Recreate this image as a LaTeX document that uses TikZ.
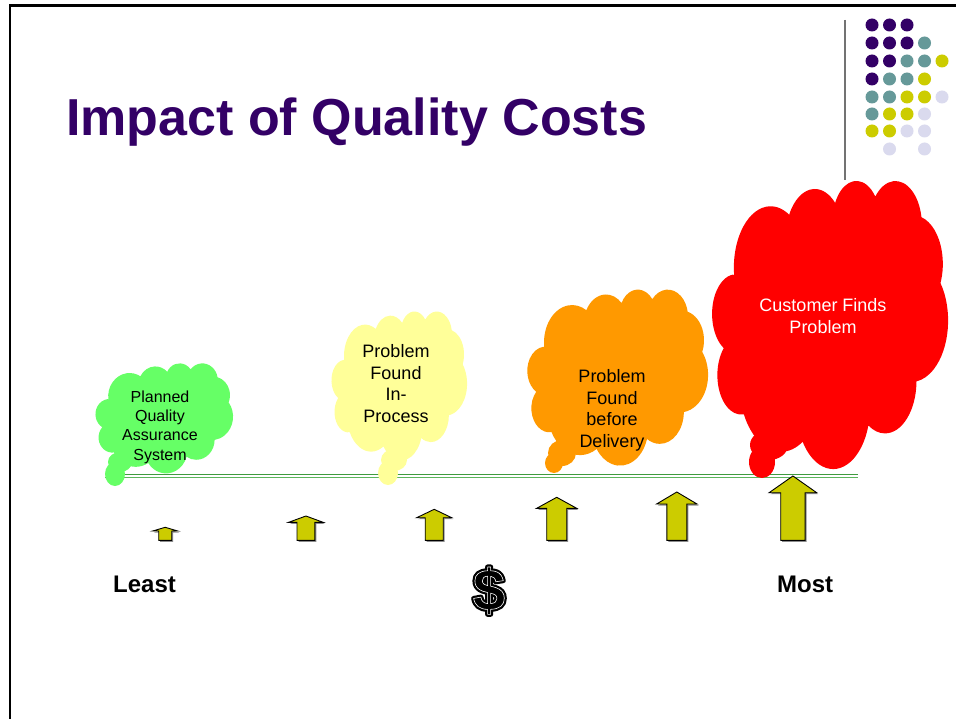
\documentclass[tikz,border=0pt]{standalone}
\usepackage{fontspec}
\setmainfont{Liberation Sans}
\definecolor{titlepurple}{HTML}{330066}
\definecolor{dotteal}{HTML}{669999}
\definecolor{dotyellow}{HTML}{CCCC00}
\definecolor{dotlilac}{HTML}{DADAEE}
\definecolor{cgreen}{HTML}{66FF66}
\definecolor{cyellow}{HTML}{FFFF99}
\definecolor{corange}{HTML}{FF9900}
\definecolor{cred}{HTML}{FF0000}
\definecolor{arrfill}{HTML}{CCCC00}
\definecolor{lineA}{HTML}{3F9B3F}
\definecolor{lineB}{HTML}{5DB55D}
% cloud outline (PowerPoint cloud preset) in a unit box, y downwards
\newcommand\qcloud[5]{%
  \begin{scope}[shift={(#1,#2)}, x=#3pt, y=-#4pt]
  \fill[#5] (0.090278,0.332639)
    arc[start angle=172.25, delta angle=128.12, x radius=0.156319, y radius=0.212731]
    arc[start angle=-152.02, delta angle=106.58, x radius=0.123449, y radius=0.168218]
    arc[start angle=-153.48, delta angle=116.16, x radius=0.101042, y radius=0.137616]
    arc[start angle=-139.71, delta angle=129.50, x radius=0.112431, y radius=0.152662]
    arc[start angle=-74.77, delta angle=97.98, x radius=0.123449, y radius=0.168356]
    arc[start angle=-37.54, delta angle=119.41, x radius=0.156829, y radius=0.213426]
    arc[start angle=0.46, delta angle=121.53, x radius=0.133912, y radius=0.182106]
    arc[start angle=16.85, delta angle=129.38, x radius=0.156296, y radius=0.213310]
    arc[start angle=58.98, delta angle=93.27, x radius=0.178704, y radius=0.244051]
    arc[start angle=83.31, delta angle=139.79, x radius=0.100926, y radius=0.136991]
    arc[start angle=120.36, delta angle=143.75, x radius=0.100579, y radius=0.137616]
    -- cycle;
  \end{scope}}
\newcommand\uparr[5]{% cx, top, headbase, headhalf, shafthalf
  \fill[black!45] ({#1+1.5},{#2+1.5}) -- ({#1+#4+1.5},{#3+1.5}) -- ({#1+#5+1.5},{#3+1.5}) -- ({#1+#5+1.5},541.8) -- ({#1-#5+1.5},541.8) -- ({#1-#5+1.5},{#3+1.5}) -- ({#1-#4+1.5},{#3+1.5}) -- cycle;
  \filldraw[arrowstyle] (#1,#2) -- ({#1+#4},#3) -- ({#1+#5},#3) -- ({#1+#5},540.3) -- ({#1-#5},540.3) -- ({#1-#5},#3) -- ({#1-#4},#3) -- cycle;}
\tikzset{
  arrowstyle/.style={fill=arrfill, draw=black, line width=0.9pt, line join=miter},
  cloudtext/.style={align=center, inner sep=0, anchor=base, font=\fontsize{18}{21.8}\selectfont},
  scaletext/.style={anchor=base west, inner sep=0, font=\fontsize{24}{24}\selectfont\bfseries},
  dollarstyle/.style={anchor=base, inner sep=0, font=\fontsize{58}{58}\selectfont\bfseries},
}
\begin{document}
\begin{tikzpicture}[x=1pt,y=-1pt]
\useasboundingbox (0,0) rectangle (956,719);
\fill[white] (0,0) rectangle (956,719);
% frame
\draw[line width=2.2pt] (10,721) -- (10,5.5) -- (958,5.5);
% gray rule
\draw[black!55, line width=1.2pt] (845,20) -- (845,180);
% dot grid
\foreach \row/\cols in {25/{1/titlepurple,2/titlepurple,3/titlepurple},
  43/{1/titlepurple,2/titlepurple,3/titlepurple,4/dotteal},
  61/{1/titlepurple,2/titlepurple,3/dotteal,4/dotteal,5/dotyellow},
  79/{1/titlepurple,2/dotteal,3/dotteal,4/dotyellow},
  97/{1/dotteal,2/dotteal,3/dotyellow,4/dotyellow,5/dotlilac},
  114/{1/dotteal,2/dotyellow,3/dotyellow,4/dotlilac},
  131/{1/dotyellow,2/dotyellow,3/dotlilac,4/dotlilac},
  149/{2/dotlilac,4/dotlilac}}{
  \foreach \c/\col in \cols {
    \fill[\col] ({854.5+17.5*\c},\row) circle [radius=6.5pt];
  }}
% title
\node[anchor=base west, inner sep=0, text=titlepurple, font=\fontsize{52}{52}\selectfont\bfseries] (title) at (66,136) {Impact of Quality Costs};
% base line
\draw[lineA, line width=1.5pt] (105,474.3) -- (858,474.3);
\draw[lineB, line width=1.3pt] (105,477.4) -- (858,477.4);
% clouds
\qcloud{96}{363}{137}{110}{cgreen}
\fill[cgreen] (120,462) ellipse [x radius=12pt, y radius=10pt];
\fill[cgreen] (115,474) ellipse [x radius=10pt, y radius=12pt];
\qcloud{332}{311}{135}{149}{cyellow}
\fill[cyellow] (394,460) ellipse [x radius=13pt, y radius=11pt];
\fill[cyellow] (388,473) ellipse [x radius=10pt, y radius=12pt];
\qcloud{528}{289}{180}{176}{corange}
\fill[corange] (562,453) ellipse [x radius=14pt, y radius=13pt];
\fill[corange] (554,463) ellipse [x radius=9pt, y radius=10pt];
\qcloud{713}{180}{235}{288}{cred}
\fill[cred] (769,445) ellipse [x radius=19pt, y radius=15pt];
\fill[cred] (762,462) ellipse [x radius=13pt, y radius=16pt];
% cloud texts
\node[cloudtext, font=\fontsize{16}{19.4}\selectfont] (planned) at (160,460.3) {Planned\\Quality\\Assurance\\System};
\node[cloudtext] (inprocess) at (396,422.7) {Problem\\Found\\In-\\Process};
\node[cloudtext] (beforedel) at (612,447.7) {Problem\\Found\\before\\Delivery};
\node[cloudtext, text=white] (customer) at (823,333.3) {Customer Finds\\Problem};
% arrows
\uparr{165.2}{527.3}{531}{12.5}{6.5}
\uparr{305.9}{516}{522.3}{17.2}{8.9}
\uparr{434.2}{509.3}{517.7}{17.5}{9}
\uparr{556.7}{497.3}{508.3}{20}{10}
\uparr{676.8}{492}{504}{20.2}{10}
\uparr{792.9}{476}{492.7}{23.8}{12.2}
% scale labels
\node[scaletext] (least) at (113,592) {Least};
\node[scaletext] (most) at (777,592) {Most};
\node[dollarstyle] (dollar) at (489,610) {\special{pdf:literal direct 0 0 0 RG 5 w 1 j 2 Tr}\$\special{pdf:literal direct 0 Tr}};
\node[dollarstyle] (dollarline) at (489,610) {\special{pdf:literal direct 1 1 1 RG 0.6 w 1 j 1 Tr}\$\special{pdf:literal direct 0 Tr 0 0 0 RG}};
\end{tikzpicture}
\end{document}
